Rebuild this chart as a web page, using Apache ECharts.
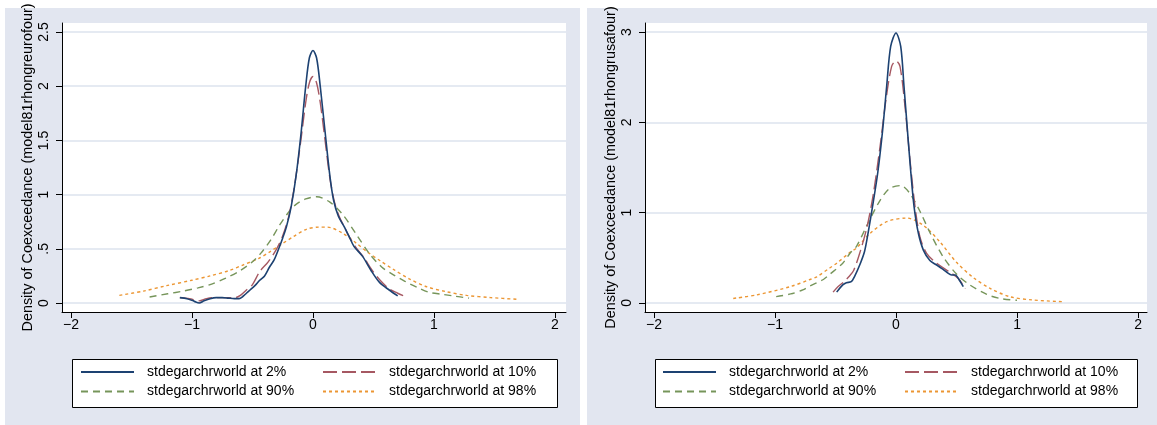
<!DOCTYPE html>
<html>
<head>
<meta charset="utf-8">
<script src="https://cdn.jsdelivr.net/npm/echarts@6/dist/echarts.min.js"></script>
<style>
  html, body { margin: 0; padding: 0; background: #ffffff; }
  #chart { width: 1157px; height: 425px; }
</style>
</head>
<body>
<div id="chart"></div>
<script>
// ---- Series names and tick labels ----
const seriesNames = [
  'stdegarchrworld at 2%',
  'stdegarchrworld at 10%',
  'stdegarchrworld at 90%',
  'stdegarchrworld at 98%'
];
const xTickValues = [-2, -1, 0, 1, 2];
const xTickLabels = ['\u22122', '\u22121', '0', '1', '2'];
const euroYTickValues = [0, 0.5, 1, 1.5, 2, 2.5];
const euroYTickLabels = ['0', '.5', '1', '1.5', '2', '2.5'];
const usaYTickValues = [0, 1, 2, 3];
const usaYTickLabels = ['0', '1', '2', '3'];
const euroTitle = 'Density of Coexceedance (model81rhongreurofour)';
const usaTitle = 'Density of Coexceedance (model81rhongrusafour)';

// ---- Kernel density estimates, [x, density] ----
const euro2 = [[-1.10,0.05],[-1.04,0.04],[-0.98,0.015],[-0.94,0.0],[-0.90,0.02],[-0.85,0.04],[-0.80,0.05],[-0.75,0.05],[-0.70,0.045],[-0.65,0.04],[-0.61,0.04],[-0.58,0.06],[-0.55,0.09],[-0.52,0.12],[-0.48,0.16],[-0.44,0.21],[-0.40,0.25],[-0.36,0.33],[-0.32,0.40],[-0.28,0.51],[-0.25,0.60],[-0.22,0.70],[-0.18,0.89],[-0.14,1.17],[-0.10,1.55],[-0.06,2.00],[-0.03,2.26],[0.00,2.33],[0.03,2.26],[0.06,2.00],[0.10,1.58],[0.14,1.17],[0.17,0.95],[0.21,0.80],[0.26,0.70],[0.30,0.61],[0.34,0.52],[0.41,0.43],[0.48,0.30],[0.55,0.19],[0.63,0.12],[0.70,0.065]];
const euro10 = [[-1.10,0.05],[-1.02,0.04],[-0.94,0.02],[-0.88,0.04],[-0.80,0.05],[-0.72,0.05],[-0.64,0.05],[-0.60,0.07],[-0.55,0.12],[-0.50,0.17],[-0.44,0.29],[-0.37,0.38],[-0.30,0.50],[-0.25,0.62],[-0.20,0.80],[-0.15,1.10],[-0.10,1.50],[-0.06,1.85],[-0.03,2.03],[0.00,2.09],[0.03,2.03],[0.06,1.85],[0.10,1.50],[0.14,1.15],[0.18,0.92],[0.22,0.79],[0.26,0.70],[0.30,0.61],[0.35,0.52],[0.42,0.42],[0.49,0.30],[0.555,0.21],[0.63,0.13],[0.70,0.09],[0.75,0.065]];
const euro90 = [[-1.35,0.055],[-1.20,0.085],[-1.07,0.11],[-0.95,0.14],[-0.85,0.17],[-0.72,0.23],[-0.60,0.30],[-0.50,0.38],[-0.43,0.46],[-0.35,0.58],[-0.275,0.72],[-0.20,0.84],[-0.14,0.91],[-0.06,0.96],[0.03,0.98],[0.14,0.93],[0.25,0.81],[0.36,0.63],[0.47,0.45],[0.57,0.33],[0.665,0.26],[0.76,0.20],[0.86,0.145],[0.955,0.10],[1.07,0.08],[1.16,0.065],[1.29,0.045]];
const euro98 = [[-1.60,0.07],[-1.40,0.11],[-1.21,0.16],[-1.00,0.21],[-0.85,0.25],[-0.69,0.30],[-0.58,0.35],[-0.45,0.41],[-0.36,0.47],[-0.25,0.55],[-0.165,0.61],[-0.055,0.68],[0.05,0.70],[0.12,0.70],[0.25,0.64],[0.36,0.55],[0.45,0.47],[0.555,0.39],[0.665,0.31],[0.80,0.22],[0.94,0.15],[1.10,0.105],[1.27,0.07],[1.47,0.05],[1.69,0.034]];

const usa2 = [[-0.49,0.12],[-0.44,0.20],[-0.41,0.225],[-0.37,0.235],[-0.34,0.30],[-0.30,0.42],[-0.26,0.57],[-0.23,0.78],[-0.19,1.10],[-0.15,1.45],[-0.11,1.92],[-0.077,2.40],[-0.044,2.84],[0.00,2.99],[0.039,2.84],[0.066,2.40],[0.094,1.92],[0.121,1.47],[0.149,1.07],[0.185,0.77],[0.226,0.585],[0.28,0.47],[0.336,0.42],[0.38,0.38],[0.42,0.34],[0.46,0.31],[0.49,0.31],[0.52,0.26],[0.556,0.18]];
const usa10 = [[-0.52,0.12],[-0.48,0.18],[-0.435,0.23],[-0.39,0.29],[-0.35,0.36],[-0.30,0.55],[-0.24,0.84],[-0.187,1.21],[-0.132,1.73],[-0.083,2.25],[-0.036,2.62],[0.00,2.68],[0.033,2.62],[0.074,2.18],[0.116,1.58],[0.157,1.07],[0.198,0.73],[0.253,0.55],[0.336,0.44],[0.446,0.34],[0.515,0.27],[0.573,0.16]];
const usa90 = [[-0.99,0.07],[-0.87,0.10],[-0.77,0.145],[-0.71,0.19],[-0.60,0.26],[-0.545,0.32],[-0.44,0.44],[-0.38,0.55],[-0.325,0.63],[-0.24,0.86],[-0.13,1.14],[-0.05,1.27],[0.04,1.30],[0.116,1.21],[0.20,1.01],[0.28,0.78],[0.39,0.51],[0.50,0.32],[0.61,0.20],[0.75,0.095],[0.86,0.05],[1.00,0.03]];
const usa98 = [[-1.345,0.05],[-1.15,0.09],[-0.876,0.18],[-0.71,0.26],[-0.655,0.29],[-0.545,0.39],[-0.49,0.44],[-0.38,0.56],[-0.325,0.61],[-0.215,0.77],[-0.077,0.90],[0.088,0.94],[0.226,0.86],[0.36,0.68],[0.50,0.45],[0.64,0.28],[0.78,0.16],[0.94,0.07],[1.13,0.033],[1.37,0.015]];

// ---- Styling ----
const FONT = '"Liberation Sans", Arial, Helvetica, sans-serif';
const PANEL_BG = '#e2e6f0';
const GRID_LINE = '#dde3ee';
const lineStyles = [
  { color: '#1d4272', width: 1.6, type: 'solid' },
  { color: '#a65862', width: 1.4, type: [14, 5] },
  { color: '#76955a', width: 1.4, type: [7, 5] },
  { color: '#ec9633', width: 1.4, type: [3, 3] }
];

function xAxisFor(gridIndex, max) {
  return {
    type: 'value', gridIndex: gridIndex, min: -2.074, max: max,
    axisLine: { show: true, onZero: false, lineStyle: { color: '#000', width: 1 } },
    axisTick: { show: true, length: 6, customValues: xTickValues, lineStyle: { color: '#000' } },
    axisLabel: {
      customValues: xTickValues, margin: 6, fontSize: 14, fontFamily: FONT, color: '#000',
      formatter: v => xTickLabels[xTickValues.indexOf(v)]
    },
    splitLine: { show: false }
  };
}

function yAxisFor(gridIndex, min, max, ticks, labels, title) {
  return {
    type: 'value', gridIndex: gridIndex, min: min, max: max,
    name: title, nameLocation: 'middle', nameGap: 27, nameRotate: 90, nameMoveOverlap: false,
    nameTextStyle: { fontSize: 14.4, fontFamily: FONT, color: '#000' },
    axisLine: { show: true, onZero: false, lineStyle: { color: '#000', width: 1 } },
    axisTick: { show: true, length: 6, customValues: ticks, lineStyle: { color: '#000' } },
    axisLabel: {
      customValues: ticks, rotate: 90, margin: 11, fontSize: 14, fontFamily: FONT, color: '#000',
      formatter: v => labels[ticks.indexOf(v)]
    },
    splitLine: { show: true, lineStyle: { color: GRID_LINE, width: 1.5 } }
  };
}

function curves(datasets, axisIndex) {
  return datasets.map((d, i) => ({
    type: 'line', name: seriesNames[i], data: d,
    xAxisIndex: axisIndex, yAxisIndex: axisIndex,
    symbol: 'none', showSymbol: false, smooth: 0.3,
    lineStyle: lineStyles[i], itemStyle: { color: lineStyles[i].color },
    z: 10 - i, animation: false, silent: true
  }));
}

// one legend entry per key so the two columns line up
function legendEntry(name, left, top) {
  return {
    left: left, top: top, orient: 'horizontal', data: [name], padding: 0,
    itemWidth: 53, itemHeight: 14, selectedMode: false,
    itemStyle: { opacity: 0 },
    textStyle: { fontSize: 14, fontFamily: FONT, color: '#000', padding: [0, 0, 0, 8] }
  };
}
function legendBlock(x0) {
  return [
    legendEntry(seriesNames[0], x0, 365),
    legendEntry(seriesNames[1], x0 + 242, 365),
    legendEntry(seriesNames[2], x0, 384.5),
    legendEntry(seriesNames[3], x0 + 242, 384.5)
  ];
}

const option = {
  backgroundColor: '#ffffff',
  animation: false,
  graphic: [
    { type: 'rect', z: -10, shape: { x: 5, y: 8, width: 575, height: 417 }, style: { fill: PANEL_BG } },
    { type: 'rect', z: -10, shape: { x: 587, y: 8, width: 570, height: 417 }, style: { fill: PANEL_BG } },
    { type: 'rect', z: 1, shape: { x: 72.5, y: 359.5, width: 485, height: 48 }, style: { fill: '#fff', stroke: '#000', lineWidth: 1 } },
    { type: 'rect', z: 1, shape: { x: 655.5, y: 359.5, width: 482, height: 48 }, style: { fill: '#fff', stroke: '#000', lineWidth: 1 } }
  ],
  grid: [
    { left: 62, top: 23, width: 504, height: 289, show: true, backgroundColor: '#fff', borderWidth: 0 },
    { left: 645, top: 23, width: 502, height: 289, show: true, backgroundColor: '#fff', borderWidth: 0 }
  ],
  xAxis: [xAxisFor(0, 2.091), xAxisFor(1, 2.074)],
  yAxis: [
    yAxisFor(0, -0.083, 2.583, euroYTickValues, euroYTickLabels, euroTitle),
    yAxisFor(1, -0.1, 3.1, usaYTickValues, usaYTickLabels, usaTitle)
  ],
  legend: legendBlock(80).concat(legendBlock(662)),
  series: curves([euro2, euro10, euro90, euro98], 0).concat(curves([usa2, usa10, usa90, usa98], 1))
};

const chart = echarts.init(document.getElementById('chart'), null, { renderer: 'canvas' });
chart.setOption(option);
</script>
</body>
</html>
